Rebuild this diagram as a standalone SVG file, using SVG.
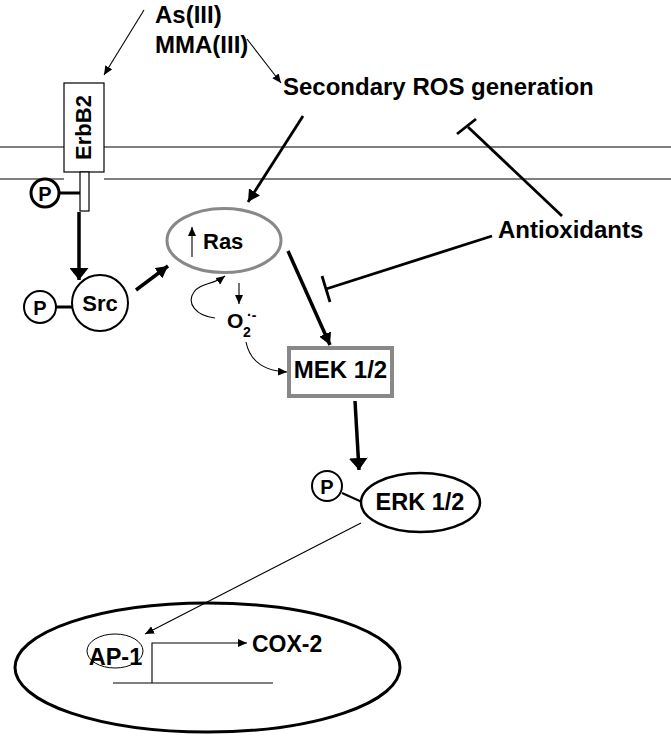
<svg xmlns="http://www.w3.org/2000/svg" width="671" height="738" viewBox="0 0 671 738">
<style>
text{font-family:"Liberation Sans",Arial,sans-serif;font-weight:bold;fill:#000}
.t24{font-size:24px}
.t22{font-size:22px}
.thin{stroke:#000;stroke-width:1.1;fill:none}
.thick{stroke:#000;stroke-width:3.5;fill:none}
.med{stroke:#000;stroke-width:2.8;fill:none}
.mem{stroke:#000;stroke-width:1.1}
</style>
<defs>
<marker id="ahThin" markerUnits="userSpaceOnUse" markerWidth="10" markerHeight="8" refX="9" refY="4" orient="auto"><path d="M0,0 L9,4 L0,8 z" fill="#000"/></marker>
<marker id="ahMed" markerUnits="userSpaceOnUse" markerWidth="13" markerHeight="13" refX="12" refY="6.5" orient="auto"><path d="M0,0 L12,6.5 L0,13 z" fill="#000"/></marker>
<marker id="ahBig" markerUnits="userSpaceOnUse" markerWidth="13" markerHeight="19" refX="12" refY="9.5" orient="auto"><path d="M0,0 L12,9.5 L0,19 z" fill="#000"/></marker>
</defs>
<rect width="671" height="738" fill="#fff"/>

<g id="membrane">
<line class="mem" x1="0" y1="147" x2="671" y2="147"/>
<line class="mem" x1="0" y1="179" x2="64" y2="179"/>
<line class="mem" x1="104" y1="179" x2="671" y2="179"/>
</g>

<g id="nucleus">
<ellipse cx="207.5" cy="667.5" rx="192.5" ry="64.5" fill="none" stroke="#000" stroke-width="3"/>
</g>

<g id="connectors">
<line class="thin" x1="144" y1="10" x2="104" y2="75" marker-end="url(#ahThin)"/>
<line class="thin" x1="247" y1="39" x2="281" y2="83" marker-end="url(#ahThin)"/>
<line class="med" x1="303" y1="116" x2="248" y2="202" marker-end="url(#ahMed)"/>
<line class="med" x1="562" y1="216" x2="468" y2="127"/>
<line class="med" x1="457" y1="134" x2="476" y2="119"/>
<line class="med" x1="492" y1="236" x2="326" y2="289"/>
<line class="med" x1="322" y1="276" x2="330" y2="302"/>
<line class="thick" x1="79" y1="212" x2="79" y2="280" marker-end="url(#ahBig)"/>
<line class="thick" x1="136" y1="290" x2="168" y2="266" marker-end="url(#ahMed)"/>
<line class="thick" x1="288" y1="251" x2="330" y2="345" marker-end="url(#ahMed)"/>
<line class="thin" x1="192" y1="257" x2="192" y2="227" marker-end="url(#ahThin)"/>
<line class="thin" x1="239" y1="283" x2="239" y2="304" stroke-width="1.6" marker-end="url(#ahThin)"/>
<path class="thin" stroke-width="1.8" d="M215,318 C196,316 186,303 194,292 C200,283 213,285 225,276" marker-end="url(#ahThin)"/>
<path class="thin" stroke-width="1.8" d="M246,342 C250,362 266,371 287,372" marker-end="url(#ahThin)"/>
<line class="thick" x1="355" y1="401" x2="359" y2="470" marker-end="url(#ahBig)"/>
<line class="thin" x1="361" y1="523" x2="145" y2="634" marker-end="url(#ahThin)"/>
<line stroke="#000" stroke-width="3" x1="59" y1="193" x2="80" y2="193"/>
<line stroke="#000" stroke-width="3" x1="56" y1="307" x2="73" y2="307"/>
<line stroke="#000" stroke-width="2" x1="342" y1="493" x2="362" y2="502"/>
<polyline class="thin" points="113,683 273,683"/>
<polyline class="thin" points="152,683 152,643 247,643" marker-end="url(#ahThin)"/>
</g>

<g id="as3">
<text class="t24" x="155" y="23">As(III)</text>
<text class="t24" x="155" y="53">MMA(III)</text>
</g>

<g id="ros">
<text class="t24" x="283" y="95">Secondary ROS generation</text>
</g>

<g id="antioxidants">
<text class="t24" x="498" y="238">Antioxidants</text>
</g>

<g id="erbb2">
<rect x="64" y="83" width="40" height="89" fill="#fff" stroke="#000" stroke-width="1.2"/>
<rect x="80" y="172" width="9" height="39" fill="#fff" stroke="#000" stroke-width="1.2"/>
<text class="t22" text-anchor="middle" transform="translate(91,127.5) rotate(-90)">ErbB2</text>
</g>

<g id="p-erbb2">
<circle cx="45" cy="193" r="14" fill="#fff" stroke="#000" stroke-width="3"/>
<text x="45" y="200.5" font-size="20" text-anchor="middle">P</text>
</g>

<g id="src">
<circle cx="100" cy="303" r="28" fill="#fff" stroke="#000" stroke-width="2"/>
<text class="t22" x="100" y="311" text-anchor="middle">Src</text>
</g>

<g id="p-src">
<circle cx="40" cy="307" r="16" fill="#fff" stroke="#000" stroke-width="2"/>
<text x="40" y="314.5" font-size="20" text-anchor="middle">P</text>
</g>

<g id="ras">
<ellipse cx="224" cy="240.5" rx="57" ry="32" fill="none" stroke="#888" stroke-width="3"/>
<text class="t22" x="203" y="249">Ras</text>
</g>

<g id="o2">
<text x="227" y="328" font-size="21">O</text>
<text x="243" y="337" font-size="14">2</text>
<text x="247" y="320" font-size="14">·-</text>
</g>

<g id="mek">
<rect x="289" y="348" width="103" height="48" fill="#fff" stroke="#888" stroke-width="4"/>
<text class="t24" x="340.5" y="378" text-anchor="middle">MEK 1/2</text>
</g>

<g id="erk">
<ellipse cx="420.5" cy="502.5" rx="59.5" ry="29.5" fill="#fff" stroke="#000" stroke-width="2.5"/>
<text x="420" y="510" font-size="23.5" text-anchor="middle">ERK 1/2</text>
</g>

<g id="p-erk">
<circle cx="327" cy="486" r="15" fill="#fff" stroke="#000" stroke-width="2"/>
<text x="327" y="493.5" font-size="20" text-anchor="middle">P</text>
</g>

<g id="ap1">
<ellipse cx="115" cy="651" rx="28" ry="17" fill="none" stroke="#000" stroke-width="1"/>
<text x="115.5" y="665" font-size="23.5" text-anchor="middle">AP-1</text>
</g>

<g id="cox2">
<text x="252" y="652" font-size="23">COX-2</text>
</g>
</svg>
